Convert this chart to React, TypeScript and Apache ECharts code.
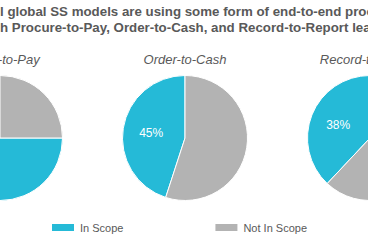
import React, { useEffect, useRef } from "react";
import * as echarts from "echarts";

const headerLines = [
  "l global SS models are using some form of end-to-end process",
  "h Procure-to-Pay, Order-to-Cash, and Record-to-Report leading",
];
const processes = ["Procure-to-Pay", "Order-to-Cash", "Record-to-Report"];
const inScope = [75, 45, 38];
const notInScope = [25, 55, 62];
const categories = ["In Scope", "Not In Scope"];
const colors = ["#25BAD7", "#B3B3B3"];

const centersX = [0, 185, 370];
const centerY = 138;
const radius = 62.5;

export default function App() {
  const ref = useRef<HTMLDivElement>(null);
  useEffect(() => {
    if (!ref.current) return;
    const chart = echarts.init(ref.current, undefined, { renderer: "svg" });
    const font = "'Liberation Sans', Arial, sans-serif";
    const series = processes.map((p, i) => ({
      type: "pie",
      name: p,
      center: [centersX[i], centerY],
      radius: [0, radius],
      startAngle: 90,
      clockwise: false,
      silent: true,
      itemStyle: { borderColor: "#ffffff", borderWidth: 1 },
      labelLine: { show: false },
      data: [
        {
          name: categories[0],
          value: inScope[i],
          itemStyle: { color: colors[0] },
          label: {
            show: true,
            position: "inside",
            formatter: "{c}%",
            color: "#ffffff",
            fontSize: 12,
            fontFamily: font,
          },
        },
        {
          name: categories[1],
          value: notInScope[i],
          itemStyle: { color: colors[1] },
          label: { show: false },
        },
      ],
    }));
    chart.setOption({
      animation: false,
      color: colors,
      legend: {
        data: categories,
        left: 45,
        top: 217,
        itemWidth: 24,
        itemHeight: 9,
        itemGap: 90,
        icon: "rect",
        selectedMode: false,
        textStyle: { color: "#595959", fontSize: 11, fontFamily: font },
      },
      graphic: [
        ...headerLines.map((t, i) => ({
          type: "text",
          left: 0,
          top: 5 + i * 16,
          style: {
            text: t,
            fill: "#595959",
            font: `bold 13.3px ${font}`,
          },
        })),
        ...processes.map((p, i) => ({
          type: "text",
          x: centersX[i] + (i === 0 ? -4 : 0),
          y: 59,
          style: {
            text: p,
            fill: "#595959",
            font: `italic 13px ${font}`,
            textAlign: "center",
            textVerticalAlign: "middle",
          },
        })),
      ],
      series,
    });
    return () => chart.dispose();
  }, []);
  return <div ref={ref} style={{ width: 368, height: 240, position: "absolute", left: 0, top: 0 }} />;
}
